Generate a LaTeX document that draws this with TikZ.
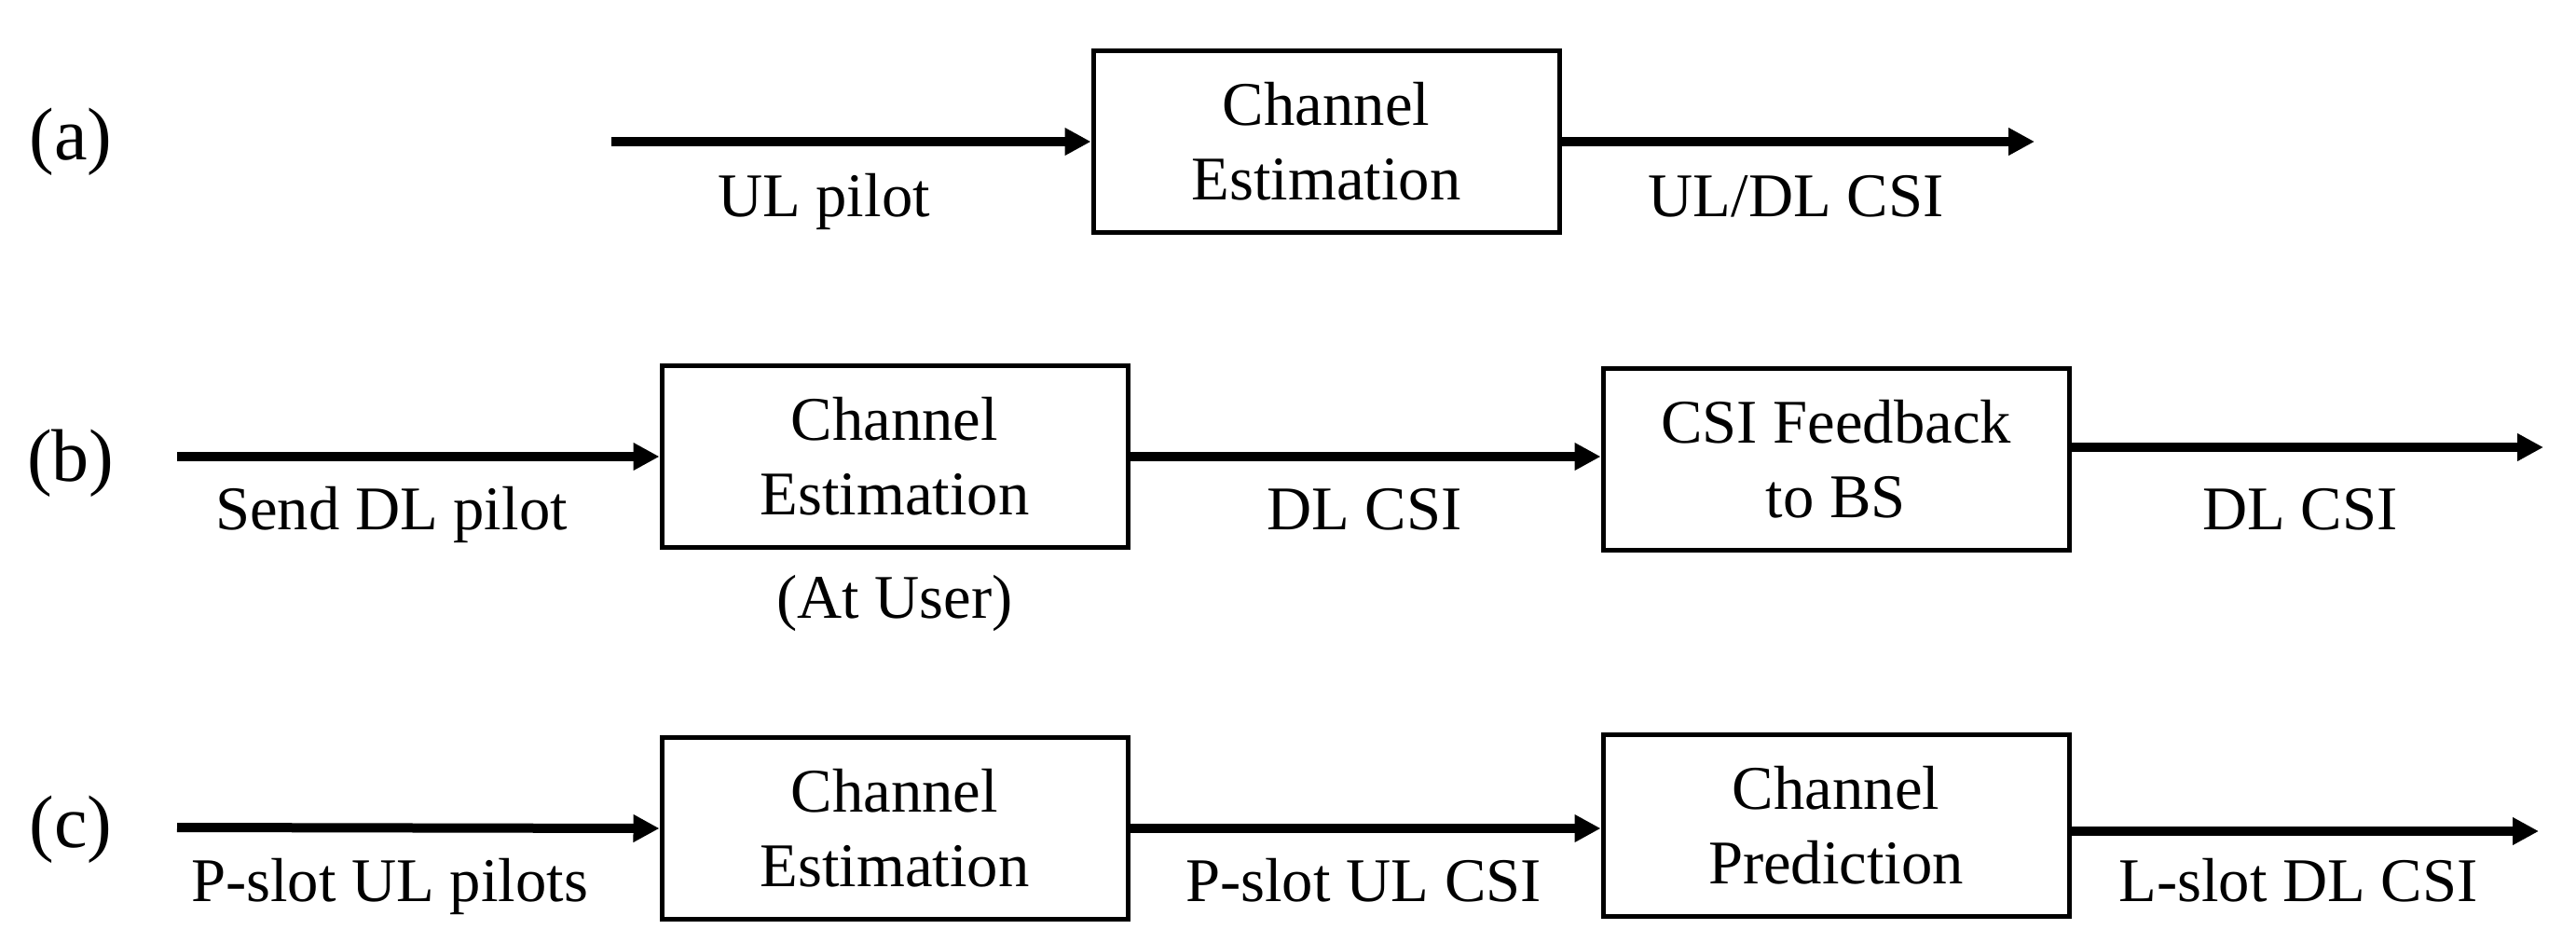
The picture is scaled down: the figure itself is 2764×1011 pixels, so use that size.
\documentclass[tikz,border=0pt]{standalone}
\usepackage{fontspec}
\setmainfont{Liberation Serif}
\usetikzlibrary{arrows.meta}
\begin{document}
\begin{tikzpicture}[x=0.3pt,y=-0.3pt,
  box/.style={draw, line width=1.5pt, minimum width=150pt, minimum height=58.5pt,
    align=center, inner sep=0pt, font=\fontsize{20}{24}\selectfont},
  conn/.style={line width=3pt, -{Triangle[length=8.4pt,width=8.4pt]}},
  lbl/.style={anchor=base, inner sep=0pt, font=\fontsize{20}{24}\selectfont},
  tag/.style={inner sep=0pt, font=\fontsize{24}{28}\selectfont}]
\useasboundingbox[fill=white] (0,0) rectangle (2764,1011);

% row (a)
\node[tag] (ta) at (76,152) {(a)};
\node[box] (a1) at (1423,152) {Channel\\Estimation};
\coordinate (ain) at (656,152);
\coordinate (aout) at (2183,152);
\draw[conn] (ain) -- (a1.west);
\draw[conn] (a1.east) -- (aout);
\node[lbl] (la1) at (884,232) {UL pilot};
\node[lbl] (la2) at (1927,232) {UL/DL CSI};

% row (b)
\node[tag] (tb) at (76,497) {(b)};
\node[box] (b1) at (960,490) {Channel\\Estimation};
\node[box] (b2) at (1970,493) {CSI Feedback\\to BS};
\coordinate (bin) at (190,490);
\coordinate (bout) at (2729,480);
\draw[conn] (bin) -- (b1.west);
\draw[conn] (b1.east) -- (b2.west |- b1.east);
\draw[conn] (b2.east |- bout) -- (bout);
\node[lbl] (lb1) at (420,568) {Send DL pilot};
\node[lbl] (lb2) at (1464,568) {DL CSI};
\node[lbl] (lb3) at (2468,568) {DL CSI};
\node[lbl] (lb4) at (960,663) {(At User)};

% row (c)
\node[tag] (tc) at (76,890) {(c)};
\node[box] (c1) at (960,889) {Channel\\Estimation};
\node[box] (c2) at (1970,886) {Channel\\Prediction};
\coordinate (cin) at (190,888);
\coordinate (cout) at (2724,892);
\draw[conn] (cin) -- (c1.west);
\draw[conn] (c1.east) -- (c2.west |- c1.east);
\draw[conn] (c2.east |- cout) -- (cout);
\node[lbl] (lc1) at (418,967) {P-slot UL pilots};
\node[lbl] (lc2) at (1463,967) {P-slot UL CSI};
\node[lbl] (lc3) at (2466,967) {L-slot DL CSI};
\end{tikzpicture}
\end{document}
